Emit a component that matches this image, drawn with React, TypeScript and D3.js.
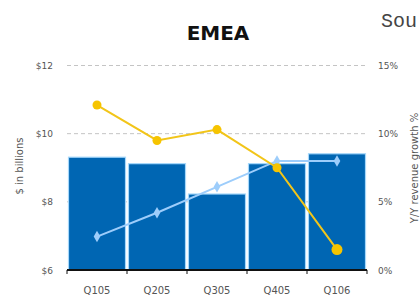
import React from 'react';
import * as d3 from 'd3';

const quarters = ["Q105", "Q205", "Q305", "Q405", "Q106"];
const revenue = [9.31, 9.12, 8.23, 9.12, 9.41];
const growthYellow = [12.1, 9.5, 10.3, 7.5, 1.5];
const growthBlue = [2.45, 4.2, 6.1, 8.0, 8.0];
const leftTicks = [6, 8, 10, 12];
const rightTicks = [0, 5, 10, 15];

const width = 420;
const height = 297;
const plot = { left: 67, right: 367, top: 65.5, bottom: 270 };

const font = "'DejaVu Sans', Verdana, sans-serif";

export default function App() {
	const x = d3.scaleBand().domain(quarters).range([plot.left, plot.right]).padding(0);
	const yLeft = d3.scaleLinear().domain([6, 12]).range([plot.bottom, plot.top]);
	const yRight = d3.scaleLinear().domain([0, 15]).range([plot.bottom, plot.top]);
	const bw = x.bandwidth();
	const cx = (q) => x(q) + bw / 2;

	const line = d3.line().x((d) => cx(d[0])).y((d) => yRight(d[1]));
	const yellowPts = quarters.map((q, i) => [q, growthYellow[i]]);
	const bluePts = quarters.map((q, i) => [q, growthBlue[i]]);
	const diamond = d3.symbol().type(d3.symbolDiamond).size(38)();

	return (
		<svg width={width} height={height}
			style={{ position: 'absolute', left: 0, top: 0, background: '#fff' }}>
			<text x={218} y={40} textAnchor="middle" fontFamily={font}
				fontWeight="bold" fontSize={20} fill="#111">EMEA</text>
			<text x={381} y={27} fontFamily="'Liberation Mono', monospace"
				fontSize={20} fill="#444">Sou</text>

			{/* grid */}
			<g className="grid">
				{leftTicks.filter((t) => t > 6).map((t) => (
					<line key={t} x1={plot.left} x2={plot.right} y1={yLeft(t)} y2={yLeft(t)}
						stroke="#c4c4c4" strokeWidth={1} strokeDasharray="4,3" />
				))}
			</g>

			{/* bars */}
			<g className="bars">
				{quarters.map((q, i) => (
					<rect key={q} x={x(q) + 1.5} width={bw - 3}
						y={yLeft(revenue[i])} height={plot.bottom - yLeft(revenue[i])}
						fill="#0066b3" stroke="#a6d8fb" strokeWidth={1.2} />
				))}
			</g>

			{/* baseline & ticks */}
			<line x1={plot.left} x2={plot.right} y1={plot.bottom} y2={plot.bottom}
				stroke="#111" strokeWidth={2} />
			{quarters.concat(["end"]).map((q, i) => {
				const xx = plot.left + i * bw;
				return <line key={q} x1={xx} x2={xx} y1={plot.bottom} y2={plot.bottom + 4}
					stroke="#111" strokeWidth={1} />;
			})}

			{/* lines */}
			<path d={line(bluePts)} fill="none" stroke="#9dcdfb" strokeWidth={2} />
			{bluePts.map((d) => (
				<path key={d[0]} d={diamond} transform={`translate(${cx(d[0])},${yRight(d[1])})`}
					fill="#9dcdfb" />
			))}
			<path d={line(yellowPts)} fill="none" stroke="#f2c519" strokeWidth={2} />
			{yellowPts.map((d, i) => (
				<circle key={d[0]} cx={cx(d[0])} cy={yRight(d[1])} r={i === 4 ? 5.5 : 4.5}
					fill="#f6c400" />
			))}

			{/* axis labels */}
			<g fontFamily={font} fontSize={9} fill="#555">
				{leftTicks.map((t) => (
					<text key={t} x={53} y={yLeft(t) + 3.5} textAnchor="end">{`$${t}`}</text>
				))}
				{rightTicks.map((t) => (
					<text key={t} x={378} y={yRight(t) + 3.5}>{`${t}%`}</text>
				))}
				{quarters.map((q) => (
					<text key={q} x={cx(q)} y={294} textAnchor="middle" fontSize={10}>{q}</text>
				))}
				<text transform="translate(23,166)rotate(-90)" textAnchor="middle" fontSize={10}>
					$ in billions
				</text>
				<text transform="translate(418,168)rotate(-90)" textAnchor="middle" fontSize={10}>
					Y/Y revenue growth %
				</text>
			</g>
		</svg>
	);
}
